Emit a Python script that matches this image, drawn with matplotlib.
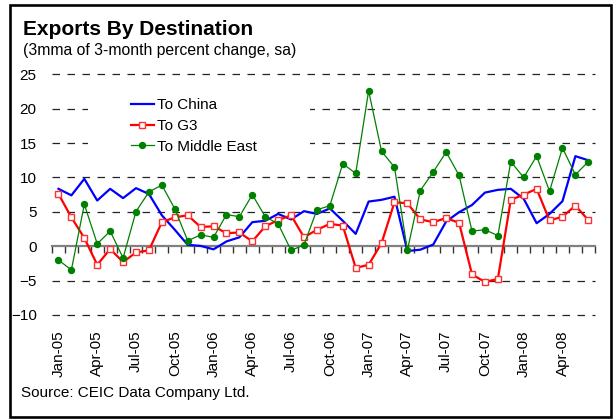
import pandas as pd
import matplotlib
matplotlib.use("Agg")
import matplotlib.pyplot as plt
from matplotlib.patches import Rectangle

plt.rcParams['font.family'] = ['Liberation Sans', 'DejaVu Sans']

# monthly data, Jan-05 .. Jun-08
months = pd.date_range("2005-01-01", periods=42, freq="MS")
china = [8.35, 7.4, 9.8, 6.65, 8.35, 7.0, 8.45, 7.6, 4.5, 2.4,
         0.2, 0.05, -0.45, 0.7, 1.3, 3.5, 3.7, 4.7, 3.9, 5.1,
         4.7, 5.5, 3.7, 1.8, 6.5, 6.75, 7.2, -0.7, -0.5, 0.25,
         3.6, 4.95, 6.0, 7.8, 8.2, 8.35, 6.9, 3.35, 4.7, 6.55,
         13.1, 12.5]
g3 = [7.6, 4.2, 1.2, -2.7, -0.4, -2.3, -0.9, -0.6, 3.5, 4.2,
      4.5, 2.8, 2.9, 1.9, 2.0, 0.7, 2.9, 3.8, 4.5, 1.3,
      2.4, 3.25, 3.0, -3.15, -2.7, 0.45, 6.4, 6.25, 3.9, 3.5,
      4.1, 3.4, -4.1, -5.2, -4.75, 6.75, 7.5, 8.35, 3.75, 4.3,
      5.9, 3.8]
mideast = [-2.0, -3.45, 6.1, 0.35, 2.2, -1.7, 5.05, 7.9, 8.9, 5.45,
           0.8, 1.65, 1.3, 4.6, 4.3, 7.5, 4.3, 3.25, -0.6, 0.2,
           5.3, 5.9, 12.0, 10.6, 22.6, 13.8, 11.5, -0.6, 8.1, 10.8,
           13.7, 10.3, 2.2, 2.4, 1.55, 12.3, 10.0, 13.1, 8.0, 14.3,
           10.4, 12.3]
tick_labels = ["Jan-05", "Apr-05", "Jul-05", "Oct-05", "Jan-06", "Apr-06", "Jul-06",
               "Oct-06", "Jan-07", "Apr-07", "Jul-07", "Oct-07", "Jan-08", "Apr-08"]
yticks = [-10, -5, 0, 5, 10, 15, 20, 25]

x = list(range(len(months)))

fig = plt.figure(figsize=(6.14, 4.20), dpi=100)
ax = fig.add_axes([0.0847, 0.25, 0.884, 0.573])

# grid (dashed) and legend background
for v in yticks:
    if v != 0:
        ax.axhline(v, color="#222222", lw=0.9, ls=(0, (6, 6)), zorder=0.5, clip_on=False)
ax.add_patch(Rectangle((0.066, 0.62), 0.41, 0.335, transform=ax.transAxes,
                       facecolor="white", edgecolor="none", zorder=1))

ax.plot(x, china, color="#0000FF", lw=1.6, label="To China", zorder=3)
ax.plot(x, g3, color="#FF0000", lw=1.6, marker="s", ms=4.6, mfc="white",
        mec="#FF3030", mew=1.0, label="To G3", zorder=4)
ax.plot(x, mideast, color="#008000", lw=0.9, marker="o", ms=4.3,
        label="To Middle East", zorder=5)

ax.set_xlim(-0.5, len(months) - 0.5)
ax.set_ylim(-10, 25)
ax.set_yticks(yticks)
ax.tick_params(axis="y", length=0, pad=11, labelsize=11)

# zero axis with month ticks
for s in ["top", "right", "left"]:
    ax.spines[s].set_visible(False)
ax.spines["bottom"].set_position(("data", 0))
ax.spines["bottom"].set_color("#808080")
ax.spines["bottom"].set_linewidth(1.6)
ax.set_xticks([i - 0.5 for i in range(len(months) + 1)])
ax.tick_params(axis="x", direction="out", length=5, width=1, color="#333333",
               labelbottom=False)

# labels at the bottom of the plot
sec = ax.secondary_xaxis("bottom")
sec.set_xticks(x[::3], tick_labels, rotation=90)
sec.tick_params(length=0, pad=11, labelsize=11)
sec.spines["bottom"].set_visible(False)

leg = ax.legend(loc="upper left", bbox_to_anchor=(0.135, 0.927), frameon=False,
                fontsize=11, handlelength=1.45, handletextpad=0.2,
                labelspacing=0.45, borderaxespad=0)

fig.text(0.037, 0.917, "Exports By Destination", fontsize=15, fontweight="bold")
fig.text(0.037, 0.869, "(3mma of 3-month percent change, sa)", fontsize=11.3)
fig.text(0.034, 0.055, "Source: CEIC Data Company Ltd.", fontsize=11)

fig.patches.append(Rectangle((0.0163, 0.007), 0.9795, 0.981, transform=fig.transFigure,
                             fill=False, edgecolor="black", lw=1.9, figure=fig))

fig.savefig("out.png", dpi=100)
